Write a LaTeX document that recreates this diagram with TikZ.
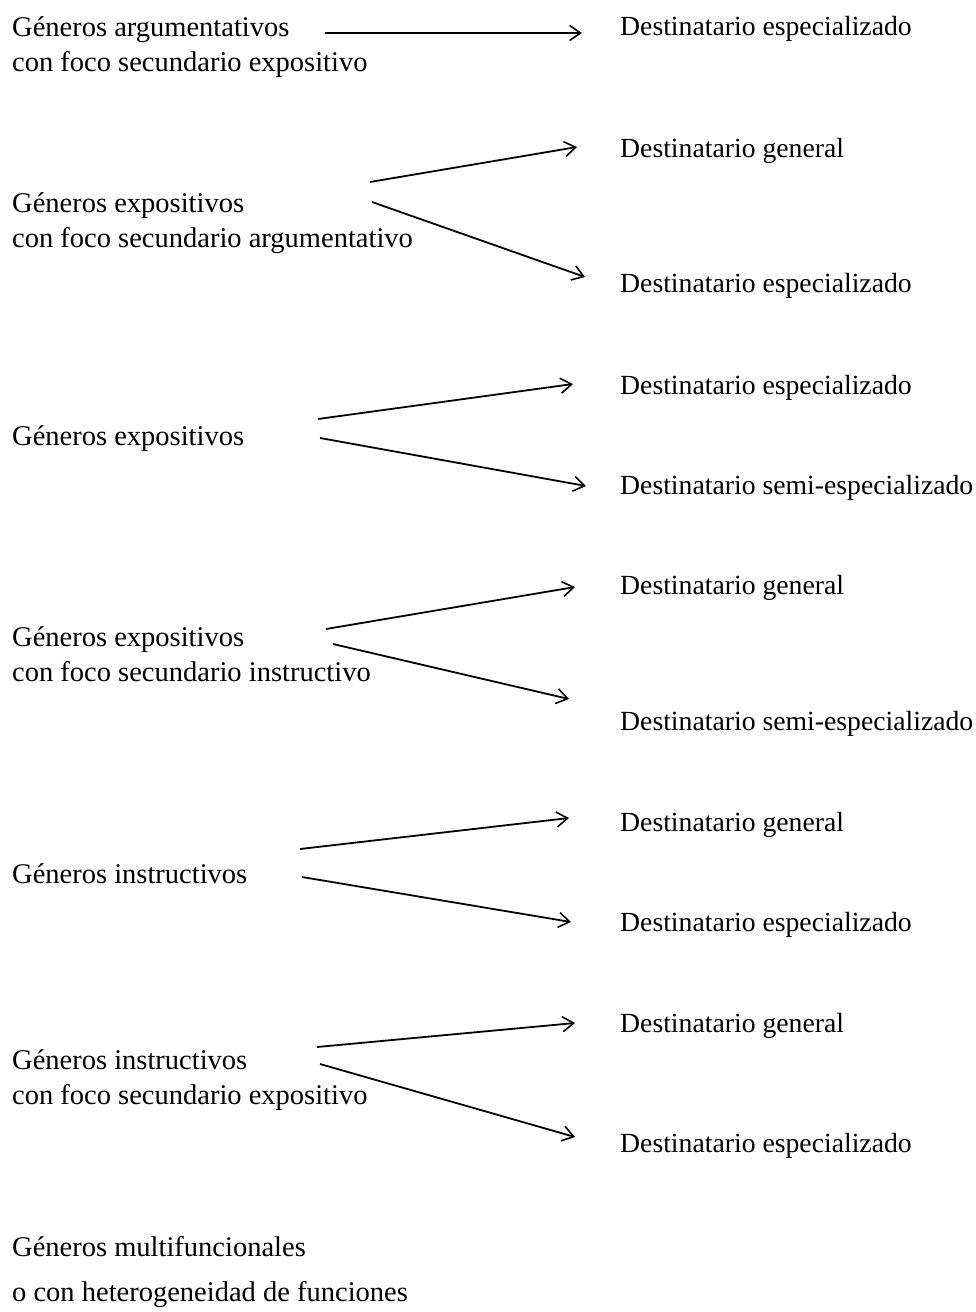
\documentclass[tikz,border=0pt]{standalone}
\usepackage{fontspec}
\setmainfont{Liberation Serif}
\usetikzlibrary{arrows.meta}

\tikzset{
  genre/.style={anchor=base west, inner sep=0pt, font=\fontsize{28.5}{35}\selectfont, align=left},
  reader/.style={anchor=base west, inner sep=0pt, font=\fontsize{27.7}{35}\selectfont},
  link/.style={line width=1.8pt, -{Straight Barb[length=11pt,width=15pt,line width=1.6pt]}}
}

\begin{document}
\begin{tikzpicture}[x=1pt,y=-1pt]
\useasboundingbox (0,0) rectangle (975,1312);

% genres (left column)
\node[genre] (g1a) at (12,36)   {Géneros argumentativos};
\node[genre] (g1b) at (12,71)   {con foco secundario expositivo};
\node[genre] (g2a) at (12,212)  {Géneros expositivos};
\node[genre] (g2b) at (12,247)  {con foco secundario argumentativo};
\node[genre] (g3)  at (12,445)  {Géneros expositivos};
\node[genre] (g4a) at (12,646)  {Géneros expositivos};
\node[genre] (g4b) at (12,681)  {con foco secundario instructivo};
\node[genre] (g5)  at (12,883)  {Géneros instructivos};
\node[genre] (g6a) at (12,1069) {Géneros instructivos};
\node[genre] (g6b) at (12,1104) {con foco secundario expositivo};
\node[genre] (g7a) at (12,1256) {Géneros multifuncionales};
\node[genre] (g7b) at (12,1301) {o con heterogeneidad de funciones};

% addressees (right column)
\node[reader] (r1)  at (620,35)   {Destinatario especializado};
\node[reader] (r2)  at (620,157)  {Destinatario general};
\node[reader] (r3)  at (620,292)  {Destinatario especializado};
\node[reader] (r4)  at (620,394)  {Destinatario especializado};
\node[reader] (r5)  at (620,494)  {Destinatario semi-especializado};
\node[reader] (r6)  at (620,594)  {Destinatario general};
\node[reader] (r7)  at (620,730)  {Destinatario semi-especializado};
\node[reader] (r8)  at (620,831)  {Destinatario general};
\node[reader] (r9)  at (620,931)  {Destinatario especializado};
\node[reader] (r10) at (620,1032) {Destinatario general};
\node[reader] (r11) at (620,1152) {Destinatario especializado};

% arrow end points
\coordinate (s1)  at (325,33);    \coordinate (e1)  at (582,33);
\coordinate (s2)  at (370,182);   \coordinate (e2)  at (577,147);
\coordinate (s3)  at (372,202);   \coordinate (e3)  at (585,277);
\coordinate (s4)  at (318,419);   \coordinate (e4)  at (573,384);
\coordinate (s5)  at (320,438);   \coordinate (e5)  at (586,486);
\coordinate (s6)  at (326,629);   \coordinate (e6)  at (575,587);
\coordinate (s7)  at (333,644);   \coordinate (e7)  at (569,699);
\coordinate (s8)  at (300,849);   \coordinate (e8)  at (569,818);
\coordinate (s9)  at (302,877);   \coordinate (e9)  at (571,922);
\coordinate (s10) at (317,1047);  \coordinate (e10) at (575,1023);
\coordinate (s11) at (320,1064);  \coordinate (e11) at (575,1137);

\foreach \i in {1,...,11} \draw[link] (s\i) -- (e\i);
\end{tikzpicture}
\end{document}
